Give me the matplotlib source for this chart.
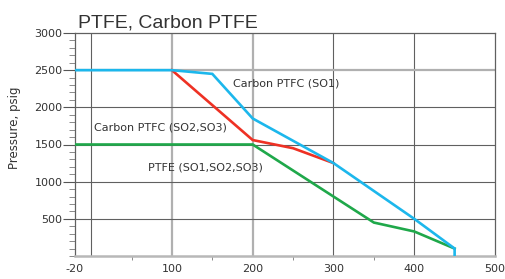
import matplotlib
matplotlib.use("Agg")
import matplotlib.pyplot as plt
from matplotlib.ticker import FixedLocator, MultipleLocator

plt.rcParams["axes.unicode_minus"] = False

# Data
blue_x = [-20, 100, 150, 200, 300, 400, 450, 450]
blue_y = [2500, 2500, 2450, 1850, 1250, 500, 100, 0]
red_x = [100, 200, 250, 300]
red_y = [2500, 1560, 1450, 1250]
green_x = [-20, 200, 300, 350, 400, 450]
green_y = [1500, 1500, 800, 450, 330, 100]

x_ticks = [-20, 100, 200, 300, 400, 500]
x_minor = [50, 150, 250, 350]
y_ticks = [500, 1000, 1500, 2000, 2500, 3000]
grid_x = [0, 100, 200, 300, 400]
grid_y = [500, 1000, 1500, 2000, 2500]

title = "PTFE, Carbon PTFE"
ylabel = "Pressure, psig"
labels = ["Carbon PTFC (SO1)", "Carbon PTFC (SO2,SO3)", "PTFE (SO1,SO2,SO3)"]
label_pos = [(176, 2320), (3, 1730), (70, 1190)]

fig = plt.figure(figsize=(5.06, 2.79), dpi=100)
ax = fig.add_axes([75/506, 23/279, 420/506, 223/279])
ax.set_xlim(-20, 500)
ax.set_ylim(0, 3000)

light = {100, 200}
for gx in grid_x:
    if gx in light:
        ax.axvline(gx, color="#b0b0b0", lw=1.6, zorder=1)
    else:
        ax.axvline(gx, color="#606060", lw=0.8, zorder=1)
for gy in grid_y:
    if gy == 2500:
        ax.axhline(gy, color="#b0b0b0", lw=1.6, zorder=1)
    else:
        ax.axhline(gy, color="#606060", lw=0.8, zorder=1)

ax.plot(green_x, green_y, color="#1fa84a", lw=1.9, zorder=3, solid_joinstyle="miter")
ax.plot(red_x, red_y, color="#ee3124", lw=1.9, zorder=4, solid_joinstyle="miter")
ax.plot(blue_x, blue_y, color="#1cb7ec", lw=1.9, zorder=5, solid_joinstyle="miter")

for t, (lx, ly) in zip(labels, label_pos):
    ax.text(lx, ly, t, fontsize=8, color="#333333", va="center", ha="left",
            family="DejaVu Sans", zorder=6)

ax.xaxis.set_major_locator(FixedLocator(x_ticks))
ax.xaxis.set_minor_locator(FixedLocator(x_minor))
ax.yaxis.set_major_locator(FixedLocator(y_ticks))
ax.yaxis.set_minor_locator(MultipleLocator(100))
ax.tick_params(axis="x", which="major", length=0, pad=6, labelsize=8, labelcolor="#333333")
ax.tick_params(axis="x", which="minor", length=3, color="#777777", direction="out")
ax.tick_params(axis="y", which="major", length=9, width=0.8, color="#555555", labelsize=8,
               labelcolor="#333333", pad=0)
ax.tick_params(axis="y", which="minor", length=4, width=0.6, color="#777777")
for lab in ax.get_xticklabels() + ax.get_yticklabels():
    lab.set_family("DejaVu Sans")

for s in ["left", "top", "right"]:
    ax.spines[s].set_color("#606060")
    ax.spines[s].set_linewidth(0.9)
ax.spines["bottom"].set_color("#b8b8b8")
ax.spines["bottom"].set_linewidth(1.8)

ax.set_ylabel(ylabel, fontsize=8.5, color="#333333", family="DejaVu Sans")
ax.yaxis.set_label_coords(-0.128, 0.574)
fig.text(78/506, 1 - 27/279, title, fontsize=14, color="#333333",
         family="Liberation Sans", ha="left", va="baseline")

fig.savefig("out.png", dpi=100)
